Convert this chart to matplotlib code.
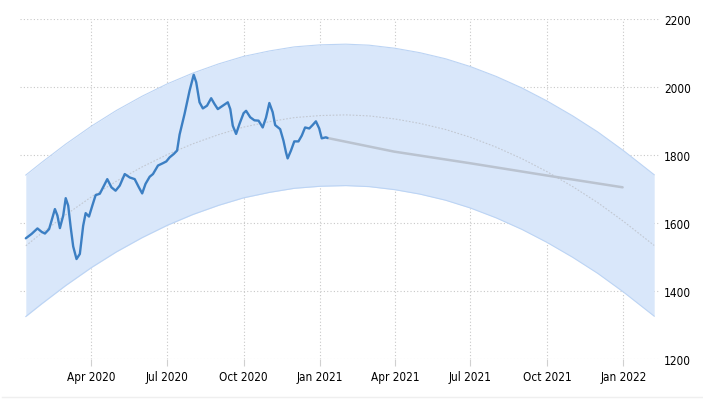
import matplotlib
matplotlib.use("Agg")
import matplotlib.pyplot as plt
import pandas as pd

# --- data -------------------------------------------------------------
price_dates = ["2020-01-13", "2020-01-20", "2020-01-27", "2020-02-01", "2020-02-05",
               "2020-02-10", "2020-02-13", "2020-02-17", "2020-02-20", "2020-02-23",
               "2020-02-27", "2020-03-01", "2020-03-04", "2020-03-07", "2020-03-10",
               "2020-03-14", "2020-03-18", "2020-03-22", "2020-03-25", "2020-03-29",
               "2020-04-02", "2020-04-06", "2020-04-11", "2020-04-15", "2020-04-20",
               "2020-04-25", "2020-04-30", "2020-05-05", "2020-05-11", "2020-05-17",
               "2020-05-23", "2020-05-28", "2020-06-01", "2020-06-05", "2020-06-10",
               "2020-06-14", "2020-06-20", "2020-06-26", "2020-06-30", "2020-07-04",
               "2020-07-09", "2020-07-13", "2020-07-16", "2020-07-22", "2020-07-28",
               "2020-08-02", "2020-08-05", "2020-08-09", "2020-08-13", "2020-08-18",
               "2020-08-23", "2020-08-27", "2020-08-31", "2020-09-06", "2020-09-12",
               "2020-09-15", "2020-09-18", "2020-09-22", "2020-09-26", "2020-10-01",
               "2020-10-04", "2020-10-09", "2020-10-14", "2020-10-19", "2020-10-24",
               "2020-10-28", "2020-11-01", "2020-11-05", "2020-11-08", "2020-11-14",
               "2020-11-18", "2020-11-21", "2020-11-23", "2020-11-27", "2020-12-01",
               "2020-12-06", "2020-12-10", "2020-12-14", "2020-12-19", "2020-12-23",
               "2020-12-27", "2020-12-31", "2021-01-03", "2021-01-08", "2021-01-10"]
price_values = [1555, 1568, 1584, 1574, 1569,
                1582, 1607, 1641, 1622, 1585,
                1622, 1673, 1651, 1587, 1531,
                1494, 1509, 1592, 1629, 1619,
                1651, 1682, 1686, 1705, 1729,
                1705, 1695, 1710, 1744, 1734,
                1729, 1705, 1687, 1715, 1736,
                1744, 1769, 1776, 1781, 1793,
                1803, 1813, 1860, 1921, 1989,
                2036, 2014, 1955, 1937, 1945,
                1967, 1950, 1935, 1945, 1955,
                1935, 1886, 1862, 1891, 1923,
                1930, 1911, 1902, 1901, 1881,
                1910, 1953, 1926, 1888, 1876,
                1842, 1808, 1790, 1813, 1840,
                1840, 1857, 1881, 1878, 1888,
                1899, 1878, 1849, 1852, 1850]

forecast_dates = ["2021-01-10", "2021-03-31", "2021-06-30", "2021-09-30", "2021-12-31"]
forecast_values = [1850, 1810, 1776, 1740, 1705]

band_dates = ["2020-01-13", "2020-02-01", "2020-03-01", "2020-04-01", "2020-05-01",
              "2020-06-01", "2020-07-01", "2020-08-01", "2020-09-01", "2020-10-01",
              "2020-11-01", "2020-12-01", "2021-01-01", "2021-02-01", "2021-03-01",
              "2021-04-01", "2021-05-01", "2021-06-01", "2021-07-01", "2021-08-01",
              "2021-09-01", "2021-10-01", "2021-11-01", "2021-12-01", "2022-01-01",
              "2022-02-07"]
band_center = [1533, 1570, 1624, 1677, 1723, 1765, 1801, 1833, 1860, 1882,
               1898, 1910, 1916, 1918, 1915, 1906, 1893, 1875, 1852, 1823,
               1789, 1751, 1707, 1660, 1605, 1534]
band_upper = [1741, 1778, 1832, 1885, 1931, 1973, 2009, 2041, 2068, 2090,
              2106, 2118, 2124, 2126, 2123, 2114, 2101, 2083, 2060, 2031,
              1997, 1959, 1915, 1868, 1813, 1742]
band_lower = [1325, 1362, 1416, 1469, 1515, 1557, 1593, 1625, 1652, 1674,
              1690, 1702, 1708, 1710, 1707, 1698, 1685, 1667, 1644, 1615,
              1581, 1543, 1499, 1452, 1397, 1326]

x_ticks = ["2020-04-01", "2020-07-01", "2020-10-01", "2021-01-01",
           "2021-04-01", "2021-07-01", "2021-10-01", "2022-01-01"]
x_tick_labels = ["Apr 2020", "Jul 2020", "Oct 2020", "Jan 2021",
                 "Apr 2021", "Jul 2021", "Oct 2021", "Jan 2022"]
y_ticks = [1200, 1400, 1600, 1800, 2000, 2200]

# --- figure -----------------------------------------------------------
W, H = 703, 402
fig = plt.figure(figsize=(W / 100, H / 100), dpi=100)
ax = fig.add_axes([20 / W, 1 - 360 / H, (660 - 20) / W, (360 - 20) / H])

pd_price = pd.to_datetime(price_dates)
pd_fc = pd.to_datetime(forecast_dates)
pd_band = pd.to_datetime(band_dates)

ax.fill_between(pd_band, band_lower, band_upper, color="#d9e7fa", lw=0, zorder=1)
ax.plot(pd_band, band_upper, color="#bcd4f4", lw=0.8, zorder=2)
ax.plot(pd_band, band_lower, color="#bcd4f4", lw=0.8, zorder=2)
ax.plot(pd_band, band_center, color="#c2c8d2", lw=0.8, ls=(0, (1.5, 1.5)), zorder=2)

ax.plot(pd_fc, forecast_values, color="#bac3d0", lw=1.8, zorder=3,
        solid_capstyle="round")
ax.plot(pd_price, price_values, color="#3c7fc3", lw=1.7, zorder=4,
        solid_joinstyle="round", solid_capstyle="round")

ax.set_xlim(pd.Timestamp("2020-01-06"), pd.Timestamp("2022-02-14"))
ax.set_ylim(1200, 2200)

ax.set_xticks(pd.to_datetime(x_ticks))
ax.set_xticklabels(x_tick_labels)
ax.set_yticks(y_ticks)
ax.set_yticklabels([str(v) for v in y_ticks])

ax.yaxis.tick_right()
ax.grid(True, color="#c8c8c8", lw=0.8, ls=(0, (1, 2)), zorder=0)
ax.set_axisbelow(True)
for s in ax.spines.values():
    s.set_visible(False)

ax.tick_params(axis="x", length=5, width=0.8, color="#d0d0d0", pad=3,
               labelsize=8.5, labelcolor="#000000")
ax.tick_params(axis="y", length=0, pad=3, labelsize=8.5, labelcolor="#000000")
for lab in ax.get_xticklabels() + ax.get_yticklabels():
    lab.set_fontfamily(["DejaVu Sans"])
    lab.set_fontstretch("condensed")

# faint bottom border line of the chart frame
fig.add_artist(plt.Line2D([2 / W, 1], [1 - 397.5 / H, 1 - 397.5 / H],
                          color="#efefef", lw=1, transform=fig.transFigure))

fig.savefig("out.png", dpi=100)
